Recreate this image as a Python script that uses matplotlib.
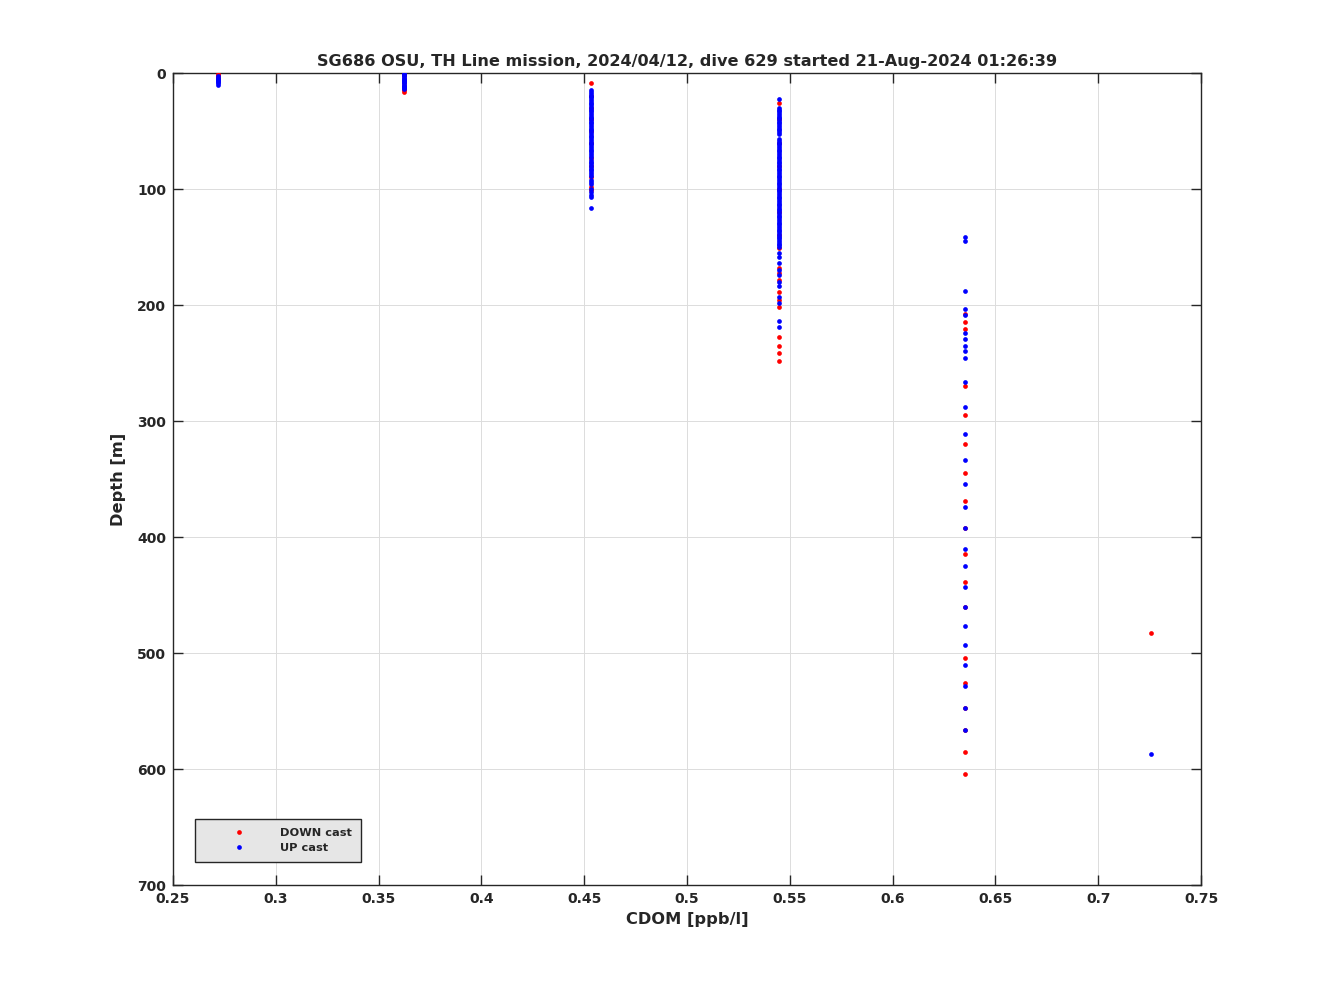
import matplotlib
matplotlib.use("Agg")
import matplotlib.pyplot as plt

# CDOM levels (quantized sensor values) and depths per level
cdom_levels = [0.272, 0.3625, 0.4535, 0.5445, 0.635, 0.7255]

down_depths = [
    [0.5, 1.5, 2.5, 3.5, 4.5],
    [1, 3, 5, 7, 9, 11, 13, 14, 15, 16],
    [8.5, 20, 30, 40, 50, 60, 73, 80, 90, 98, 101],
    [25.6, 40, 60, 80, 100, 120, 140, 151, 168, 172, 178.5, 189, 195.7, 202, 228, 235, 241.5, 248],
    [208, 214.7, 221, 270, 295, 320, 345, 369, 392, 414.7, 438.5, 460.6, 504, 525.6, 547, 566.6, 585.6, 604.3],
    [482.8],
]

up_depths = [
    [3, 4, 5, 6, 7, 8, 9, 10],
    [0, 1, 2, 3, 4, 5, 6, 7, 8, 9, 10, 11, 12, 13, 14],
    [15, 16.5, 18, 19.5, 21, 22.5, 24, 25.5, 27, 28.5, 30, 31.5, 33, 34.5, 36, 37.5, 39, 40.5,
     42, 43.5, 45, 46.5, 48, 49.5, 51, 52.5, 54, 55.5, 57, 58.5, 60, 61.5, 63, 64.5, 66, 67.5,
     69, 70.5, 72, 75, 76.5, 78, 79.5, 81, 82.5, 84, 85.5, 87, 88.5, 92, 94, 96, 100, 103,
     105, 107, 116],
    [22.4, 30, 31.5, 33, 34.5, 36, 37.5, 39, 40.5, 42, 43.5, 45, 46.5, 48, 49.5, 51, 52.5,
     57, 58.5, 60, 61.5, 63, 64.5, 66, 67.5, 69, 70.5, 72, 73.5, 75, 76.5, 78, 79.5, 81, 82.5,
     84, 85.5, 87, 88.5, 90, 91.5, 93, 94.5, 96, 97.5, 99, 100.5, 102, 103.5, 105, 106.5, 108,
     109.5, 111, 112.5, 114, 115.5, 117, 118.5, 120, 121.5, 123, 124.5, 126, 127.5, 129, 130.5,
     132, 133.5, 135, 136.5, 138, 139.5, 141, 142.5, 144, 145.5, 147, 148.5, 150,
     155, 159, 164, 170, 174, 180, 183.6, 193, 198, 213.5, 219],
    [141, 145, 188, 203.5, 208.6, 224, 229.3, 235, 240, 245.7, 266, 288, 311.5, 334, 354.6,
     374.5, 392, 410, 425, 443, 460.6, 477, 493, 510, 528, 547, 566.6],
    [587],
]

title = "SG686 OSU, TH Line mission, 2024/04/12, dive 629 started 21-Aug-2024 01:26:39"
x_ticks = [0.25, 0.3, 0.35, 0.4, 0.45, 0.5, 0.55, 0.6, 0.65, 0.7, 0.75]
x_tick_labels = ["0.25", "0.3", "0.35", "0.4", "0.45", "0.5", "0.55", "0.6", "0.65", "0.7", "0.75"]
y_ticks = [0, 100, 200, 300, 400, 500, 600, 700]

TXT = '#262626'
plt.rcParams['font.family'] = ['DejaVu Sans']
plt.rcParams['font.weight'] = 'bold'
plt.rcParams['text.color'] = TXT

fig = plt.figure(figsize=(13.28, 9.96), dpi=100)
ax = fig.add_axes([0.1303, 0.1114, 0.7741, 0.8153])

dx, dy = [], []
for lvl, ds in zip(cdom_levels, down_depths):
    dx += [lvl] * len(ds)
    dy += ds
ux, uy = [], []
for lvl, ds in zip(cdom_levels, up_depths):
    ux += [lvl] * len(ds)
    uy += ds

ax.plot(dx, dy, linestyle='none', marker='o', markersize=3.4, color='red',
        markeredgewidth=0, label='DOWN cast', zorder=3)
ax.plot(ux, uy, linestyle='none', marker='o', markersize=3.4, color='blue',
        markeredgewidth=0, label='UP cast', zorder=4)

ax.set_xlim(0.25, 0.75)
ax.set_ylim(700, 0)
ax.set_xticks(x_ticks)
ax.set_xticklabels(x_tick_labels)
ax.set_yticks(y_ticks)
ax.grid(True, color='#dcdcdc', linewidth=0.7)
ax.set_axisbelow(True)
ax.tick_params(direction='in', length=7.2, width=1, top=True, right=True,
               labelsize=10, pad=5, colors=TXT)
for lab in ax.get_xticklabels() + ax.get_yticklabels():
    lab.set_fontweight('bold')
for sp in ax.spines.values():
    sp.set_linewidth(1)
    sp.set_color(TXT)

ax.set_xlabel("CDOM [ppb/l]", fontsize=11.7, fontweight='bold', labelpad=4, color=TXT)
ax.set_ylabel("Depth [m]", fontsize=11.7, fontweight='bold', labelpad=8, color=TXT)
ax.set_title(title, fontsize=11.6, fontweight='bold', pad=5, color=TXT)

leg = ax.legend(loc='lower left', bbox_to_anchor=(0.0214, 0.0283), borderaxespad=0,
                fancybox=False, edgecolor=TXT, facecolor='#e6e6e6', framealpha=1,
                prop={'weight': 'bold', 'size': 8.2}, handlelength=6.2, handletextpad=0.45,
                borderpad=0.8, labelspacing=0.45, markerscale=1.0)
leg.get_frame().set_linewidth(1)

fig.savefig("out.png", dpi=100)
